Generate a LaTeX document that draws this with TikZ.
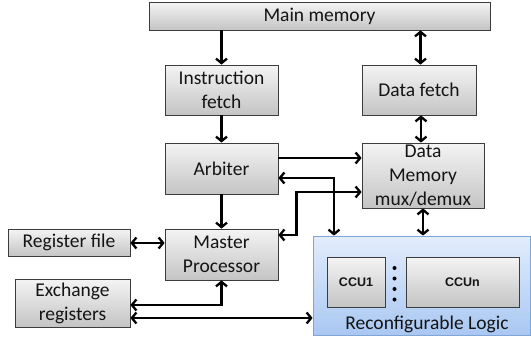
\documentclass[tikz,border=0pt]{standalone}
\usepackage{fontspec}
\setmainfont{Carlito}
\newfontfamily\ccufont{Liberation Sans Bold}
\usetikzlibrary{arrows.meta,shadows,calc}
\definecolor{boxline}{HTML}{3C3C3C}
\definecolor{boxtop}{HTML}{F4F4F4}
\definecolor{boxbot}{HTML}{C4C4C4}
\definecolor{rltop}{HTML}{E3EDFC}
\definecolor{rlbot}{HTML}{A9C7F2}
\definecolor{rlline}{HTML}{7FA6D8}
\definecolor{txt}{HTML}{141414}
\tikzset{
  blk/.style={draw=boxline, line width=0.8pt, top color=boxtop, bottom color=boxbot,
    inner sep=0pt, align=center, text=txt, font=\fontsize{19.5}{24}\selectfont,
    drop shadow={shadow xshift=1.2pt, shadow yshift=-1.2pt, opacity=0.25}},
  ccu/.style={blk, font=\ccufont\fontsize{12.5}{14}\selectfont},
  rlbox/.style={draw=rlline, line width=0.8pt, top color=rltop, bottom color=rlbot,
    inner sep=0pt, drop shadow={shadow xshift=1.2pt, shadow yshift=-1.2pt, opacity=0.2}},
  link/.style={line width=2.3pt, black},
  tip/.tip={Straight Barb[length=4.5pt,width=11pt]},
}
\begin{document}
\begin{tikzpicture}[x=1pt,y=-1pt, >=tip]
\useasboundingbox (0,0) rectangle (531,343);

% memory hierarchy and control blocks
\node[blk, minimum width=341pt, minimum height=28pt] (mm) at (319.5,16) {Main memory};
\node[blk, minimum width=113pt, minimum height=50pt] (if) at (221.5,90) {Instruction\\fetch};
\node[blk, minimum width=114pt, minimum height=50pt] (df) at (419,90) {Data fetch};
\node[blk, minimum width=113pt, minimum height=51pt] (arb) at (221.5,168.5) {Arbiter};
\node[blk, minimum width=122pt, minimum height=65pt] (dm) at (423,175.5) {Data\\Memory\\mux/demux};
\node[blk, minimum width=122pt, minimum height=27pt] (rf) at (69,242.5) {Register file};
\node[blk, minimum width=113pt, minimum height=51pt] (mp) at (221.5,254.5) {Master\\Processor};
\node[blk, minimum width=115pt, minimum height=48pt] (er) at (72.5,303) {Exchange\\registers};

% reconfigurable fabric with its custom compute units
\node[rlbox, minimum width=217pt, minimum height=99pt] (rl) at (421.5,285.5) {};
\node[ccu, minimum width=58pt, minimum height=50pt] (c1) at (356,282) {CCU1};
\node[ccu, minimum width=113pt, minimum height=50pt] (cn) at (462.5,282) {CCUn};
\node[text=txt, font=\fontsize{19.5}{24}\selectfont, inner sep=0pt] (rlt) at (427,324.5) {Reconfigurable Logic};
\foreach \yy in {268,278.5,289,299.5}
  \fill[black] (394.5,\yy) circle (2pt);

% connectors
\draw[link,->] (if.north |- mm.south) -- (if.north);
\draw[link,<->] ([xshift=1.5pt]df.north |- mm.south) -- ([xshift=1.5pt]df.north);
\draw[link,->] (if.south) -- (arb.north);
\draw[link,<->] ([xshift=2pt]df.south) -- ([xshift=2pt]df.south |- dm.north);
\draw[link,->] ([yshift=10.5pt]arb.east) coordinate (a1) -- (a1 -| dm.west);
\draw[link,<->] ([yshift=-9.5pt]arb.east) -| ([xshift=-87.5pt]rl.north);
\draw[link,<->] ([yshift=19.5pt]mp.east) -- ++(18,0) |- ([yshift=-16.5pt]dm.west);
\draw[link,<->] (dm.south) -- (dm.south |- rl.north);
\draw[link,->] (arb.south) -- (mp.north);
\draw[link,<->] ([yshift=-0.5pt]rf.east) coordinate (r1) -- (r1 -| mp.west);
\draw[link,<->] ([yshift=-2pt]er.east) -| (mp.south);
\draw[link,<->] ([yshift=-15pt]er.east) coordinate (e1) -- (e1 -| rl.west);
\end{tikzpicture}
\end{document}
